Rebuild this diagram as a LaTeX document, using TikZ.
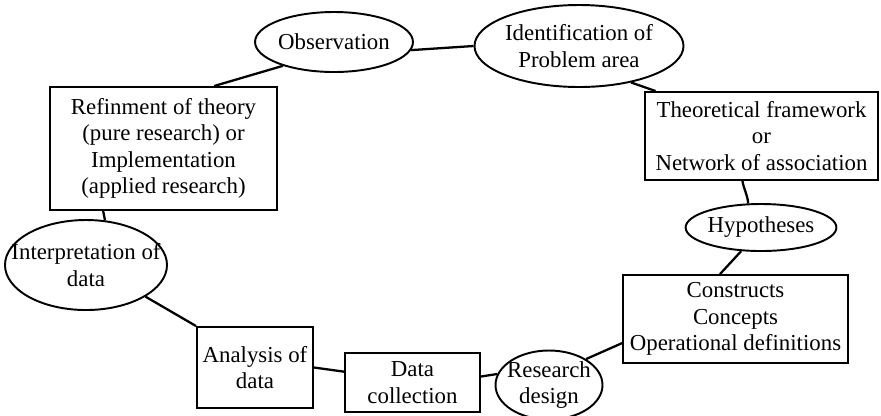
\documentclass[tikz,border=0pt]{standalone}
\usepackage{fontspec}
\setmainfont{Liberation Serif}
\usetikzlibrary{shapes.geometric}
\begin{document}
\begin{tikzpicture}[
    box/.style={draw,line width=1.1pt,rectangle,align=center,inner sep=2pt},
    oval/.style={draw,line width=1.1pt,ellipse,align=center,inner sep=0pt},
    link/.style={line width=1.3pt},
    every node/.style={font=\fontsize{13}{15}\selectfont}
]
            \useasboundingbox (0,0) rectangle (17.62,-8.3);
            \node[oval,minimum width=2.96cm,minimum height=1.2cm] (obs) at (6.68,-0.84) {Observation};
            \node[oval,minimum width=4cm,minimum height=1.64cm] (ident) at (11.58,-0.92) {Identification of\\Problem area};
            \node[box,minimum width=4.66cm,minimum height=1.76cm] (theo) at (15.23,-2.72) {Theoretical framework\\or\\Network of association};
            \node[oval,minimum width=2.86cm,minimum height=0.94cm] (hyp) at (15.22,-4.55) {Hypotheses};
            \node[box,minimum width=4.5cm,minimum height=1.76cm] (cons) at (14.71,-6.38) {Constructs\\Concepts\\Operational definitions};
            \node[oval,minimum width=2.14cm,minimum height=1.38cm,inner xsep=-12pt,inner ysep=-2pt] (rd) at (10.98,-7.7) {Research\\design};
            \node[box,minimum width=2.7cm,minimum height=1.18cm] (dc) at (8.25,-7.65) {Data\\collection};
            \node[box,minimum width=2.32cm,minimum height=1.62cm] (an) at (5.1,-7.35) {Analysis of\\data};
            \node[oval,minimum width=3.24cm,minimum height=1.8cm,inner xsep=-20pt,inner ysep=-3pt] (interp) at (1.72,-5.3) {Interpretation of\\data};
            \node[box,minimum width=4.54cm,minimum height=2.46cm] (ref) at (3.27,-2.97) {Refinment of theory\\(pure research) or\\Implementation\\(applied research)};
            \draw[link] (obs.-6) -- (ident.west);
            \draw[link] (ident.-35) -- (theo.157);
            \draw[link] (theo.-113) to[out=-80,in=95] (hyp.118);
            \draw[link] (hyp.-130) -- (cons.109);
            \draw[link] (cons.192) -- (rd.35);
            \draw[link] (rd.168) -- (dc.5);
            \draw[link] (dc.171) -- (an.east);
            \draw[link] (an.north west) -- (interp.-28);
            \draw[link] (interp.67) -- (ref.-134);
            \draw[link] (ref.51) -- (obs.205);
\end{tikzpicture}
\end{document}
